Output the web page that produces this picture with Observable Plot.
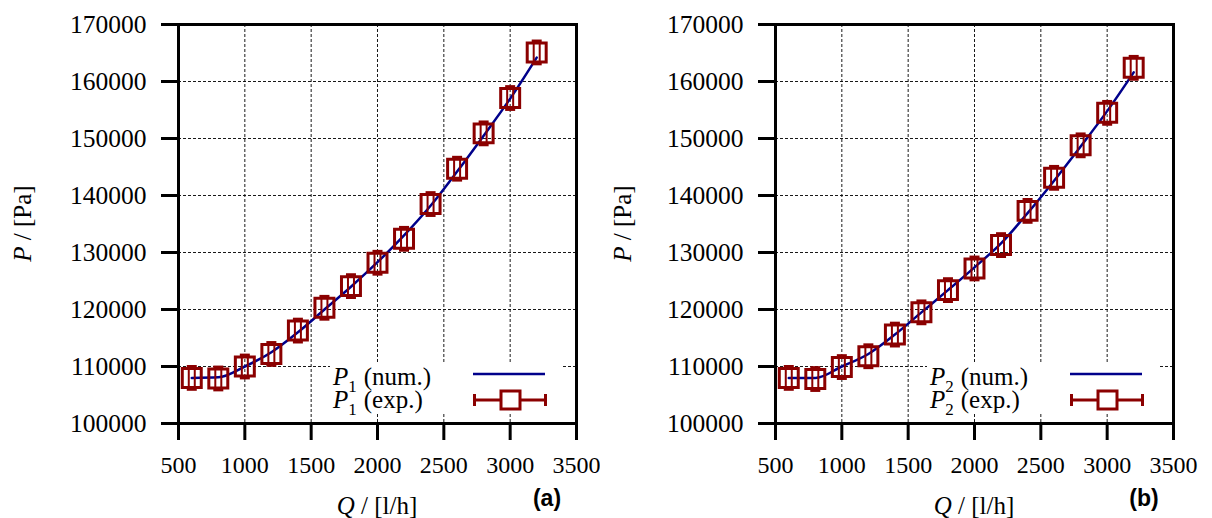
<!DOCTYPE html>
<html>
<head>
<meta charset="utf-8">
<script src="https://cdn.jsdelivr.net/npm/d3@7"></script>
<script src="https://cdn.jsdelivr.net/npm/@observablehq/plot@0.6"></script>
<style>
  html, body { margin: 0; padding: 0; background: #fff; }
  #wrap { display: flex; flex-direction: row; width: 1212px; height: 518px; }
  svg { overflow: visible; }
  svg text { font-family: 'Liberation Serif', 'DejaVu Serif', serif; }
</style>
</head>
<body>
<div id="wrap"></div>
<script>
// ---- data ----
const Q = [600, 800, 1000, 1200, 1400, 1600, 1800, 2000, 2200, 2400, 2600, 2800, 3000, 3200];
const P1exp = [108000, 107900, 110000, 112200, 116300, 120300, 124100, 128200, 132400, 138500, 144700, 150900, 157100, 165100];
const P1num = [108000, 108100, 110000, 112500, 116000, 120000, 124000, 128300, 133000, 138200, 144200, 150500, 157000, 164200];
const P2exp = [108000, 107800, 109900, 111800, 115600, 119500, 123400, 127200, 131300, 137300, 143100, 148800, 154500, 162400];
const P2num = [108000, 108000, 110000, 112200, 115600, 119500, 123400, 127400, 131600, 136900, 142600, 148600, 154800, 161600];
const Perr  = [2000, 2000, 2000, 2000, 2000, 2000, 2000, 2000, 2000, 2000, 2000, 2000, 2000, 2000];
const xTicks = [500, 1000, 1500, 2000, 2500, 3000, 3500];
const yTicks = [100000, 110000, 120000, 130000, 140000, 150000, 160000, 170000];
const panels = [
  {sub: "1", tag: "(a)", exp: P1exp, num: P1num, width: 600, ml: 178, mr: 24},
  {sub: "2", tag: "(b)", exp: P2exp, num: P2num, width: 612, ml: 175, mr: 39}
];

const RED = "#8b0000", BLUE = "#00008b";
const H = 518, MT = 24, MB = 95;
const SERIF = "'Liberation Serif', 'DejaVu Serif', serif";
const hcap = {draw(ctx) { ctx.moveTo(-5, 0); ctx.lineTo(5, 0); }};

function panel(p) {
  const rows = Q.map((q, i) => ({Q: q, P: p.exp[i], err: Perr[i]}));
  const line = Q.map((q, i) => ({Q: q, P: p.num[i]}));
  const svg = Plot.plot({
    width: p.width, height: H,
    marginLeft: p.ml, marginRight: p.mr, marginTop: MT, marginBottom: MB,
    style: {fontFamily: SERIF, fontSize: "24px", background: "#fff", color: "#000"},
    x: {domain: [500, 3500]},
    y: {domain: [100000, 170000]},
    marks: [
      Plot.gridX(xTicks.slice(1, -1), {stroke: "#000", strokeOpacity: 0.9, strokeWidth: 1, strokeDasharray: "3,2"}),
      Plot.gridY(yTicks.slice(1, -1), {stroke: "#000", strokeOpacity: 0.9, strokeWidth: 1, strokeDasharray: "3,2"}),
      Plot.axisX({ticks: xTicks, tickFormat: d => String(d), tickSize: 17, tickPadding: 15, strokeWidth: 3, label: null, fontSize: 24, fontFamily: SERIF}),
      Plot.axisY({ticks: yTicks, tickFormat: d => String(d), tickSize: 17, tickPadding: 15, strokeWidth: 3, label: null, fontSize: 25.5, fontFamily: SERIF}),
      Plot.line(line, {x: "Q", y: "P", stroke: BLUE, strokeWidth: 2.5, curve: "monotone-x"}),
      Plot.ruleX(rows, {x: "Q", y1: d => d.P - d.err, y2: d => d.P + d.err, dx: -3, stroke: RED, strokeWidth: 2}),
      Plot.ruleX(rows, {x: "Q", y1: d => d.P - d.err, y2: d => d.P + d.err, dx: 3, stroke: RED, strokeWidth: 2}),
      Plot.dot(rows, {x: "Q", y: d => d.P + d.err, symbol: hcap, stroke: RED, strokeWidth: 3}),
      Plot.dot(rows, {x: "Q", y: d => d.P - d.err, symbol: hcap, stroke: RED, strokeWidth: 3}),
      Plot.dot(rows, {x: "Q", y: "P", symbol: "square", r: 10.7, stroke: RED, strokeWidth: 3, fill: "none"}),
      Plot.frame({stroke: "#000", strokeWidth: 3})
    ]
  });

  const fl = p.ml, fr = p.width - p.mr, ft = MT, fb = H - MB;
  const s = d3.select(svg).attr("font-family", SERIF);

  // legend
  const g = s.append("g").attr("font-family", SERIF).attr("font-size", 25).attr("text-anchor", "start");
  g.append("rect").attr("x", fl + 152).attr("y", ft + 339).attr("width", 232).attr("height", 50).attr("fill", "#fff");
  [["(num.)", ft + 361], ["(exp.)", ft + 384]].forEach(([lab, y]) => {
    const t = g.append("text").attr("x", fl + 155).attr("y", y);
    t.append("tspan").attr("font-style", "italic").text("P");
    t.append("tspan").attr("font-size", 17).attr("dy", 7).text(p.sub);
    t.append("tspan").attr("dy", -7).attr("dx", 7).text(lab);
  });
  g.append("line").attr("x1", fl + 295).attr("x2", fl + 367).attr("y1", ft + 350).attr("y2", ft + 350)
    .attr("stroke", BLUE).attr("stroke-width", 2.5);
  const ey = ft + 376;
  g.append("line").attr("x1", fl + 295).attr("x2", fl + 369).attr("y1", ey).attr("y2", ey).attr("stroke", RED).attr("stroke-width", 3);
  g.append("line").attr("x1", fl + 296.5).attr("x2", fl + 296.5).attr("y1", ey - 6).attr("y2", ey + 6).attr("stroke", RED).attr("stroke-width", 3);
  g.append("line").attr("x1", fl + 367.5).attr("x2", fl + 367.5).attr("y1", ey - 6).attr("y2", ey + 6).attr("stroke", RED).attr("stroke-width", 3);
  g.append("rect").attr("x", fl + 323).attr("y", ey - 9).attr("width", 19).attr("height", 18)
    .attr("fill", "#fff").attr("stroke", RED).attr("stroke-width", 3);

  // axis titles
  const xt = s.append("text").attr("x", (fl + fr) / 2).attr("y", 514).attr("text-anchor", "middle")
    .attr("font-family", SERIF).attr("font-size", 25);
  xt.append("tspan").attr("font-style", "italic").text("Q");
  xt.append("tspan").text(" / [l/h]");
  const yt = s.append("text").attr("transform", `translate(31,${(ft + fb) / 2}) rotate(-90)`).attr("text-anchor", "middle")
    .attr("font-family", SERIF).attr("font-size", 25);
  yt.append("tspan").attr("font-style", "italic").text("P");
  yt.append("tspan").text(" / [Pa]");

  // panel tag
  s.append("text").attr("x", fr - 29).attr("y", 506).attr("text-anchor", "middle")
    .style("font-family", "'Liberation Sans', Arial, sans-serif").attr("font-weight", "bold").attr("font-size", 23)
    .text(p.tag);
  return svg;
}

const wrap = document.getElementById("wrap");
panels.forEach(p => wrap.appendChild(panel(p)));
</script>
</body>
</html>
